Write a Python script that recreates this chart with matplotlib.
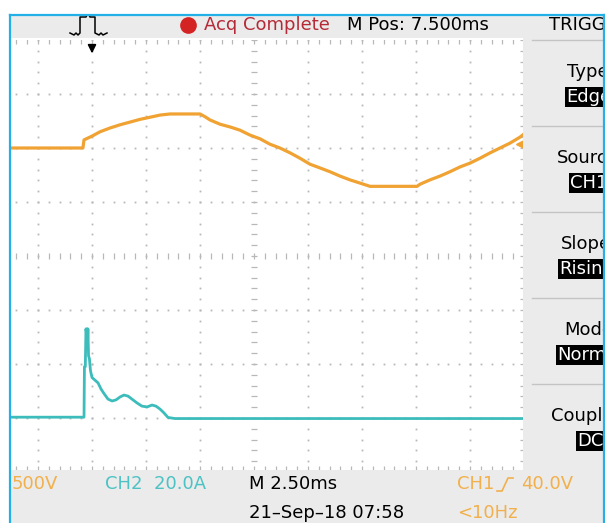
import numpy as np
import matplotlib

matplotlib.use("Agg")
import matplotlib.pyplot as plt
from matplotlib.lines import Line2D
from matplotlib.patches import Rectangle

W, H = 605, 523

# scope settings
TIME_PER_DIV = 2.5      # ms
TRIG_DIV = 2            # trigger sits 2 divisions from the left edge
CH1_PER_DIV = 500       # V
CH1_POS = 2             # divisions above centre
CH2_PER_DIV = 20        # A
CH2_POS = -3

# CH1 voltage (ms, V)
ch1_t = [-5.0, -0.42, -0.37, 0.0, 0.37, 0.83, 1.30, 1.76, 2.22, 2.69, 3.15, 3.61,
         5.00, 5.23, 5.46, 5.93, 6.39, 6.85, 7.31, 7.78, 8.24, 8.70, 9.17, 9.63,
         10.09, 10.56, 11.02, 11.48, 11.94, 12.41, 12.87, 15.05, 15.19, 15.65,
         16.11, 16.57, 17.04, 17.50, 17.96, 18.43, 18.89, 19.35, 19.81, 20.0]
ch1_v = [0, 0, 75, 110, 150, 185, 215, 240, 265, 285, 305, 315,
         315, 290, 260, 220, 195, 165, 120, 85, 35, 0, -45, -95,
         -150, -185, -220, -260, -295, -325, -355, -355, -335, -295,
         -260, -220, -175, -140, -95, -45, 0, 45, 100, 130]

# CH2 current (ms, A)
ch2_t = [-5.0, -0.37, -0.35, -0.31, -0.28, -0.25, -0.23, -0.21, -0.19, -0.16,
         -0.12, -0.07, 0.0, 0.14, 0.28, 0.42, 0.56, 0.74, 0.93, 1.11, 1.30,
         1.48, 1.67, 1.85, 2.08, 2.31, 2.55, 2.78, 2.96, 3.15, 3.33, 3.52,
         3.84, 20.0]
ch2_a = [0.3, 0.3, 19, 19, 33, 31, 33, 27, 33, 23,
         22, 17.5, 15, 14, 13, 10.7, 9, 7, 6.3, 6.7, 7.8,
         8.5, 8.1, 7, 5.6, 4.4, 4.1, 4.8, 4.4, 3.3, 1.9, 0.2,
         -0.2, -0.2]

TRIG_LEVEL = 40  # V

ORANGE = "#f0a232"
ORANGE_TXT = "#f2b04c"
TEAL = "#3dbcbc"
TEAL_TXT = "#4cc2c4"
GRAY = "#ebebeb"
BLUE = "#22b0e6"
DOT = "#b8b8b8"
FONT = "DejaVu Sans"


def fx(px):
    return px / W


def fy(py):
    return 1 - py / H


fig = plt.figure(figsize=(W / 100, H / 100), dpi=100, facecolor="white")


def rect(x0, y0, x1, y1, color, z=2):
    fig.add_artist(Rectangle((fx(x0), fy(y1)), (x1 - x0) / W, (y1 - y0) / H,
                             transform=fig.transFigure, facecolor=color,
                             edgecolor="none", zorder=z))


def fline(xs, ys, color, lw=1.0, z=4):
    fig.add_artist(Line2D([fx(x) for x in xs], [fy(y) for y in ys],
                          transform=fig.transFigure, color=color, lw=lw,
                          zorder=z))


def ftext(x, y, s, color="black", ha="left", **kw):
    fig.text(fx(x), fy(y), s, color=color, ha=ha, va="center", fontsize=13,
             family=FONT, zorder=6, **kw)


# graticule: 10 x 8 divisions, 54 px per division, left part cropped off
ax = fig.add_axes([fx(-16), fy(472), 540 / W, 432 / H])
t0 = -TRIG_DIV * TIME_PER_DIV
t1 = t0 + 10 * TIME_PER_DIV
v0 = (-4 - CH1_POS) * CH1_PER_DIV
v1 = (4 - CH1_POS) * CH1_PER_DIV
ax.set_xlim(t0, t1)
ax.set_ylim(v0, v1)
ax.axis("off")

xs_minor = np.linspace(t0, t1, 51)
ys_minor = np.linspace(v0, v1, 41)
for k in range(1, 10):
    xk = t0 + k * TIME_PER_DIV
    if k == 5:
        ax.plot([xk] * len(ys_minor), ys_minor, ls="none", marker="_",
                ms=4, mew=0.9, color=DOT)
    else:
        ax.plot([xk] * len(ys_minor), ys_minor, ls="none", marker="s",
                ms=1.3, mew=0, color=DOT)
for k in range(1, 8):
    yk = v0 + k * CH1_PER_DIV
    if k == 4:
        ax.plot(xs_minor, [yk] * len(xs_minor), ls="none", marker="|",
                ms=4, mew=0.9, color=DOT)
    else:
        ax.plot(xs_minor, [yk] * len(xs_minor), ls="none", marker="s",
                ms=1.3, mew=0, color=DOT)
# edge ticks
ax.plot(xs_minor, [v1] * len(xs_minor), ls="none", marker="|", ms=6,
        mew=0.9, color=DOT)
ax.plot(xs_minor, [v0 + 0.06 * CH1_PER_DIV] * len(xs_minor), ls="none",
        marker="|", ms=4, mew=0.9, color=DOT)
ax.plot([t1] * len(ys_minor), ys_minor, ls="none", marker="_", ms=6,
        mew=0.9, color=DOT)

# traces
ax.plot(ch1_t, ch1_v, color=ORANGE, lw=2.3, solid_joinstyle="round", zorder=5)
ax2 = ax.twinx()
ax2.set_ylim((-4 - CH2_POS) * CH2_PER_DIV, (4 - CH2_POS) * CH2_PER_DIV)
ax2.axis("off")
ax2.plot(ch2_t, ch2_a, color=TEAL, lw=2.0, solid_joinstyle="round", zorder=5)

# trigger level marker on the right edge
ax.plot([t1 - 0.1], [TRIG_LEVEL], marker="<", ms=8, color=ORANGE,
        clip_on=False, zorder=6)
# trigger position arrow at the top
ax.annotate("", xy=(0, v1 - 0.30 * CH1_PER_DIV),
            xytext=(0, v1 - 0.05 * CH1_PER_DIV),
            arrowprops=dict(arrowstyle="-|>", color="black", lw=1.3,
                            mutation_scale=12), annotation_clip=False)

# frame: white left margin, grey bars, blue border
rect(0, 0, 9, H, "white", z=2)
rect(9, 15, 603, 38, GRAY)
rect(523, 38, 603, 470, GRAY)
rect(9, 470, 603, H, GRAY)
rect(603, 0, W, H, "white", z=9)
fline([9.5, 9.5], [14.5, H], BLUE, lw=1.6, z=10)
fline([9.5, 603.5], [14.5, 14.5], BLUE, lw=1.6, z=10)
fline([603.5, 603.5], [14.5, H], BLUE, lw=1.6, z=10)

# right panel separators
for yy in [40, 126, 212, 298, 384]:
    fline([532, 603], [yy, yy], "#c4c4c4", lw=1.0, z=3)

# top bar
fline([70, 74, 76, 78, 80, 80, 86, 87, 89, 90, 95, 95, 99, 101, 103, 107],
      [33, 35, 33, 35, 33, 17, 17, 15, 15, 17, 17, 33, 35, 33, 35, 33],
      "black", lw=1.1, z=4)
fig.add_artist(Line2D([fx(188)], [fy(25)], transform=fig.transFigure,
                      marker="o", ms=11, color="#d42323", zorder=5))
ftext(204, 25, "Acq Complete", color="#b52a36")
ftext(347, 25, "M Pos: 7.500ms")
ftext(549, 25, "TRIGG")

# trigger menu (labels run past the right border, as on the screen)
panel = [("Type", 567, 72, "Edge", 566, 97),
         ("Source", 557, 158, "CH1", 570, 183),
         ("Slope", 561, 244, "Rising", 559, 269),
         ("Mode", 564, 330, "Normal", 557, 355),
         ("Coupling", 551, 416, "DC", 577, 441)]
for label, lx, ly, val, vx, vy in panel:
    ftext(lx, ly, label)
    ftext(vx, vy, val, color="white",
          bbox=dict(boxstyle="square,pad=0.08", facecolor="black",
                    edgecolor="none"))

# bottom status bar
ftext(12, 484, "500V", color=ORANGE_TXT)
ftext(105, 484, "CH2  20.0A", color=TEAL_TXT)
ftext(249, 484, "M 2.50ms")
ftext(249, 513, "21\u2013Sep\u201318 07:58")
ftext(457, 484, "CH1", color=ORANGE_TXT)
fline([497, 502, 508, 513], [491, 491, 478, 478], ORANGE_TXT, lw=1.2, z=6)
ftext(521, 484, "40.0V", color=ORANGE_TXT)
ftext(457, 513, "<10Hz", color=ORANGE_TXT)

fig.savefig("out.png", dpi=100, facecolor="white")
